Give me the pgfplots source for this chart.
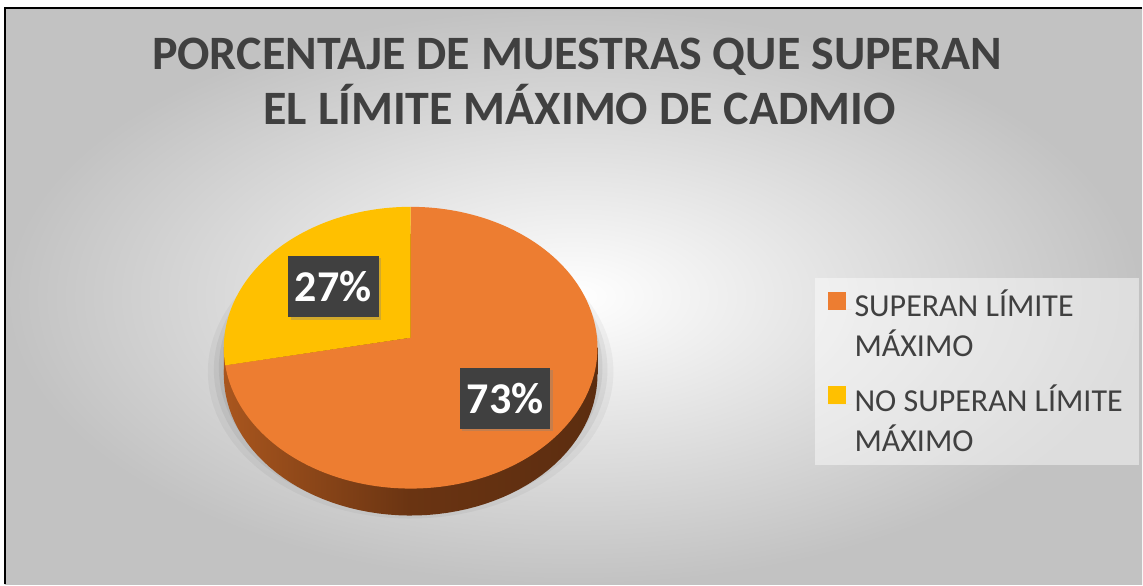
\documentclass[border=0pt]{standalone}
\usepackage{fontspec}
\setmainfont{Carlito}
\usepackage{pgfplots}
\usepackage{pgfplotstable}
\pgfplotsset{compat=1.18}
\usetikzlibrary{shadows}
\definecolor{cOrange}{HTML}{ED7D31}
\definecolor{cYellow}{HTML}{FFC000}
\definecolor{cText}{HTML}{404040}
\definecolor{cLabel}{HTML}{404040}
\definecolor{sideL}{HTML}{A9561E}
\definecolor{sideM}{HTML}{6A3412}
\definecolor{sideR}{HTML}{5C2D10}
\definecolor{bgOuter}{HTML}{C2C2C2}

\pgfplotstableread{
cat value
1 73
2 27
}\piedata
\pgfplotstablegetelem{0}{value}\of\piedata \let\vA\pgfplotsretval
\pgfplotstablegetelem{1}{value}\of\piedata \let\vB\pgfplotsretval
\pgfmathsetmacro\aStart{90}
\pgfmathsetmacro\aMid{90-3.6*\vA}
\pgfmathsetmacro\aEnd{\aMid-3.6*\vB}
\def\cx{411}\def\cy{237}\def\rx{187}\def\ry{141}\def\dep{27}

\begin{document}
\begin{tikzpicture}
\begin{axis}[
  scale only axis, width=857.25pt, height=438.75pt,
  xmin=0,xmax=1143,ymin=0,ymax=585,
  hide axis, clip=false,
  legend style={at={(axis cs:815,307)}, anchor=north west, draw=none,
    fill=white, fill opacity=0.45, text opacity=1,
    font=\fontsize{24}{30}\selectfont, text=cText,
    cells={anchor=west, align=left}, row sep=15.5pt,
    inner xsep=10pt, inner ysep=7pt},
  legend image code/.code={\path (0pt,11pt) -- (18pt,11pt);\fill[#1,draw=none,fill opacity=1] (0pt,11pt) rectangle (13.5pt,24.5pt);},
]
% page and background
\fill[white] (axis cs:0,0) rectangle (axis cs:1143,585);
\shade[inner color=white, outer color=bgOuter] (axis cs:5,0) rectangle (axis cs:1143,577);
\draw[black, line width=1.5pt] (axis cs:5,0) -- (axis cs:5,577) -- (axis cs:1143,577);

% soft shadow
\addplot[forget plot, draw=none, fill=black, fill opacity=0.04, domain=0:360, samples=120] ({\cx+(\rx+16)*cos(x)}, {\cy-24+(\ry+6)*sin(x)});
\addplot[forget plot, draw=none, fill=black, fill opacity=0.05, domain=0:360, samples=120] ({\cx+(\rx+10)*cos(x)}, {\cy-22+(\ry+3)*sin(x)});
\addplot[forget plot, draw=none, fill=black, fill opacity=0.06, domain=0:360, samples=120] ({\cx+(\rx+5)*cos(x)}, {\cy-20+(\ry+1)*sin(x)});

% side of the pie
\addplot[forget plot, draw=none, left color=sideL, right color=sideR, middle color=sideM, domain=0:360, samples=120] ({\cx+\rx*cos(x)}, {\cy-\dep+\ry*sin(x)});
\addplot[forget plot, draw=none, left color=sideL, right color=sideR, middle color=sideM] coordinates {(224,210) (598,210) (598,237) (224,237)} -- cycle;

% top face wedges
\addplot[fill=cOrange, draw=none, domain=\aMid:\aStart, samples=150] ({\cx+\rx*cos(x)},{\cy+\ry*sin(x)}) -- (axis cs:411,247) -- cycle;
\addlegendentry{SUPERAN LÍMITE\\MÁXIMO}
\addplot[fill=cYellow, draw=none, domain=\aEnd:\aMid, samples=60] ({\cx+\rx*cos(x)},{\cy+\ry*sin(x)}) -- (axis cs:411,247) -- cycle;
\addlegendentry{NO SUPERAN LÍMITE\\MÁXIMO}

% data labels
\node[fill=cLabel, text=white, font=\fontsize{33}{34}\selectfont\bfseries, minimum width=68pt, minimum height=46pt, inner sep=0pt, drop shadow={opacity=0.35,shadow xshift=2pt,shadow yshift=-2pt}] at (axis cs:333.5,298.5) {27\%};
\node[fill=cLabel, text=white, font=\fontsize{33}{34}\selectfont\bfseries, minimum width=68pt, minimum height=46pt, inner sep=0pt, drop shadow={opacity=0.35,shadow xshift=2pt,shadow yshift=-2pt}] at (axis cs:505.5,186.5) {73\%};

% title
\node[anchor=base, font=\fontsize{36}{41}\selectfont\bfseries, text=cText] at (axis cs:577.5,515) {PORCENTAJE DE MUESTRAS QUE SUPERAN};
\node[anchor=base, font=\fontsize{36}{41}\selectfont\bfseries, text=cText] at (axis cs:580,460) {EL LÍMITE MÁXIMO DE CADMIO};
\end{axis}
\end{tikzpicture}
\end{document}
